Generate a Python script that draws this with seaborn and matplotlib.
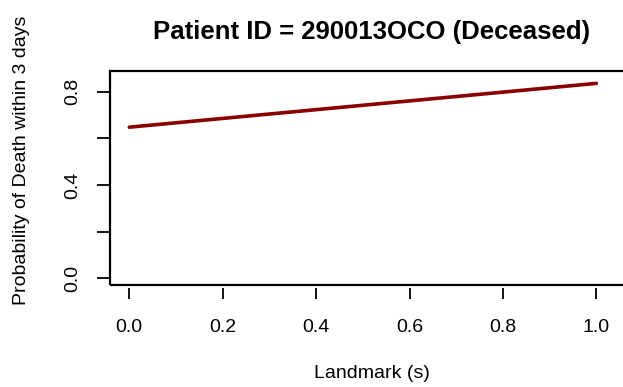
import matplotlib
matplotlib.use("Agg")
import matplotlib.pyplot as plt
from matplotlib.patches import Rectangle
import seaborn as sns
import pandas as pd

# values
landmark = [0.0, 1.0]
prob_death = [0.648, 0.836]
x_ticks = [0.0, 0.2, 0.4, 0.6, 0.8, 1.0]
y_ticks = [0.0, 0.2, 0.4, 0.6, 0.8]
y_tick_labels = ["0.0", "", "0.4", "", "0.8"]

sns.set_style("white")
plt.rcParams["font.family"] = ["Liberation Sans", "DejaVu Sans"]
plt.rcParams["text.color"] = "black"

df = pd.DataFrame({"landmark": landmark, "prob": prob_death})

fig = plt.figure(figsize=(6.23, 3.87), dpi=100)
ax = fig.add_axes([110 / 623, 102 / 387, 0.843, 214 / 387])

sns.lineplot(data=df, x="landmark", y="prob", color="#8B0000", linewidth=2.6, ax=ax)

ax.set_xlim(-0.0413, 1.083)
ax.set_ylim(-0.029, 0.889)

for s in ax.spines.values():
  s.set_visible(False)
ax.spines["bottom"].set_position(("outward", 2.2))
ax.add_patch(Rectangle((0, 0), 1, 1, transform=ax.transAxes, fill=False,
                       lw=1.6, edgecolor="black", clip_on=False))

ax.set_xticks(x_ticks)
ax.set_xticklabels([f"{v:.1f}" for v in x_ticks])
ax.set_yticks(y_ticks)
ax.set_yticklabels(y_tick_labels, rotation=90, va="center")
ax.tick_params(axis="x", length=8, width=1.3, pad=14, labelsize=14, colors="black")
ax.tick_params(axis="y", length=9.4, width=1.3, pad=11, labelsize=14, colors="black")
ax.tick_params(bottom=True, left=True)

ax.set_xlabel("")
ax.set_ylabel("")
fig.text(372 / 623, 1 - 373 / 387, "Landmark (s)", ha="center", va="center", fontsize=14)
fig.text(22 / 623, 1 - 160 / 387, "Probability of Death within 3 days", ha="center", va="center",
         rotation=90, fontsize=14)
fig.text(372 / 623, 1 - 32 / 387, "Patient ID = 290013OCO (Deceased)", ha="center", va="center",
         fontsize=18.5, fontweight="bold")

fig.savefig("out.png", dpi=100)
